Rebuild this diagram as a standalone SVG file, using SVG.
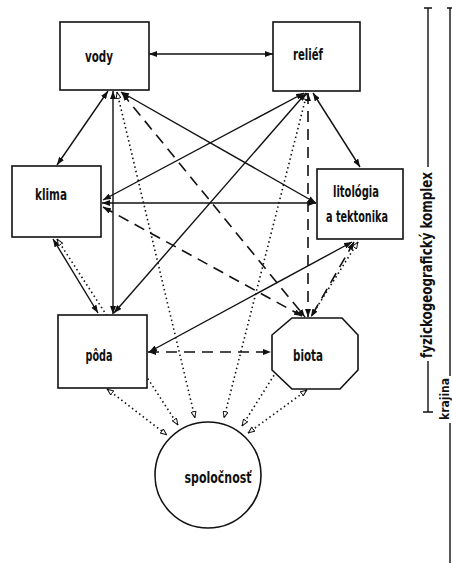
<svg xmlns="http://www.w3.org/2000/svg" width="452" height="565" viewBox="0 0 452 565">
<style>
.s{stroke:#111;stroke-width:1.4;fill:none;marker-start:url(#a);marker-end:url(#a)}
.d{stroke:#111;stroke-width:1.6;fill:none;stroke-dasharray:11 7;marker-start:url(#a);marker-end:url(#a)}
.t{stroke:#111;stroke-width:1.6;fill:none;stroke-dasharray:1.5 3;marker-start:url(#o);marker-end:url(#o)}
.n{fill:#fff;stroke:#111;stroke-width:1.6}
.l{font-family:"DejaVu Sans Condensed","DejaVu Sans",sans-serif;font-weight:bold;font-size:16px;fill:#111;text-anchor:middle}
.b{stroke:#111;stroke-width:1.4;fill:none}
</style>
<defs>
<marker id="a" viewBox="0 0 8 6" refX="8" refY="3" markerWidth="8" markerHeight="6" markerUnits="userSpaceOnUse" orient="auto-start-reverse"><path d="M0,0 L8,3 L0,6 z" fill="#111"/></marker>
<marker id="o" viewBox="0 0 7 6" refX="7" refY="3" markerWidth="7" markerHeight="6" markerUnits="userSpaceOnUse" orient="auto-start-reverse"><path d="M0.5,0.5 L6.5,3 L0.5,5.5 z" fill="#fff" stroke="#111" stroke-width="1"/></marker>
</defs>
<g id="connectors">
<path class="s" d="M149,54 L273,54"/>
<path class="s" d="M108,91 L57,165"/>
<path class="s" d="M313,93 L360,167"/>
<path class="s" d="M113,91 L113,314"/>
<path class="s" d="M121,92 L316,203"/>
<path class="s" d="M102,203 L316,203"/>
<path class="s" d="M304,93 L103,200"/>
<path class="s" d="M306,93 L114,313"/>
<path class="s" d="M352,242 L149,352"/>
<path class="s" d="M53,239 L98,313"/>
<path class="d" d="M122,93 L305,317"/>
<path class="d" d="M103,207 L302,316"/>
<path class="d" d="M308,93 L308,317"/>
<path class="d" d="M354,242 L311,317"/>
<path class="d" d="M148,352 L271,352"/>
<path class="t" d="M107,389 L167,435"/>
<path class="t" d="M57,239 L178,425"/>
<path class="t" d="M117,92 L195,418"/>
<path class="t" d="M307,93 L224,418"/>
<path class="t" d="M358,242 L242,426"/>
<path class="t" d="M307,390 L248,433"/>
</g>
<g id="vody"><rect class="n" x="60" y="22" width="89" height="68"/><text class="l" x="99" y="62" textLength="28" lengthAdjust="spacingAndGlyphs">vody</text></g>
<g id="relief"><rect class="n" x="273" y="22" width="87" height="69"/><text class="l" x="308" y="60" textLength="30" lengthAdjust="spacingAndGlyphs">reliéf</text></g>
<g id="klima"><rect class="n" x="12" y="166" width="89" height="71"/><text class="l" x="51" y="200" textLength="32" lengthAdjust="spacingAndGlyphs">klima</text></g>
<g id="litologia"><rect class="n" x="317" y="169" width="86" height="70"/><text class="l" x="356" y="197" textLength="46" lengthAdjust="spacingAndGlyphs">litológia</text><text class="l" x="357" y="222" textLength="62" lengthAdjust="spacingAndGlyphs">a tektonika</text></g>
<g id="poda"><rect class="n" x="58" y="315" width="89" height="73"/><text class="l" x="99" y="361" textLength="27" lengthAdjust="spacingAndGlyphs">pôda</text></g>
<g id="biota"><polygon class="n" points="292,318 342,318 358,335 358,370 340,389 292,389 272,370 272,335"/><text class="l" x="308" y="361" textLength="30" lengthAdjust="spacingAndGlyphs">biota</text></g>
<g id="spolocnost"><circle class="n" cx="208" cy="475" r="53"/><text class="l" x="218" y="483" textLength="67" lengthAdjust="spacingAndGlyphs">spoločnosť</text></g>
<g id="brackets">
<path class="b" d="M424,8 L432,8 M428,8 L428,167 M428,361 L428,412 M423,412 L433,412"/>
<path class="b" d="M447,8 L452,8 M450,8 L450,376 M450,423 L450,563"/>
<text class="l" transform="translate(432,265) rotate(-90)" x="0" y="0" textLength="186" lengthAdjust="spacingAndGlyphs">fyzickogeografický komplex</text>
<text class="l" style="font-size:12px" transform="translate(449,399) rotate(-90)" x="0" y="0" textLength="42" lengthAdjust="spacingAndGlyphs">krajina</text>
</g>
</svg>
